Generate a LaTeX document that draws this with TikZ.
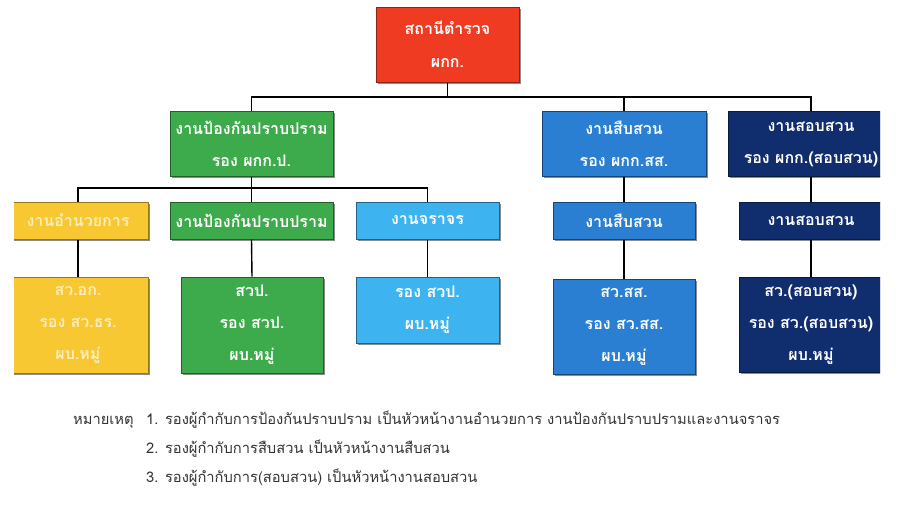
\documentclass[tikz,border=0pt]{standalone}
\usepackage{fontspec}
\newfontfamily\thai[Script=Thai]{Loma}
\usetikzlibrary{shadows}
\definecolor{cred}{HTML}{EE3B22}
\definecolor{cgreen}{HTML}{3DAA4B}
\definecolor{cyellow}{HTML}{F7C832}
\definecolor{cltblue}{HTML}{3DB3F0}
\definecolor{cblue}{HTML}{2A7FD3}
\definecolor{cnavy}{HTML}{102D6D}
\definecolor{cytext}{HTML}{FAEDB8}
\definecolor{cnote}{HTML}{333333}
\tikzset{
  box/.style={rectangle, line width=1pt, align=center, text=white, inner sep=0pt,
    font=\thai\bfseries\fontsize{16}{32}\selectfont,
    drop shadow={shadow xshift=1.5pt, shadow yshift=-1.5pt, opacity=0.45, fill=black}},
  redb/.style={box, fill=cred, draw=cred!60!black},
  greenb/.style={box, fill=cgreen, draw=cgreen!55!black},
  yellowb/.style={box, fill=cyellow, draw=cyellow!60!black, text=cytext},
  ltblueb/.style={box, fill=cltblue, draw=cltblue!55!black},
  blueb/.style={box, fill=cblue, draw=cblue!55!black},
  navyb/.style={box, fill=cnavy, draw=cnavy!60!black},
  conn/.style={draw=black, line width=1.4pt},
  note/.style={font=\thai\fontsize{14.7}{15}\selectfont, text=cnote, inner sep=0pt, anchor=base west}
}
\begin{document}
\begin{tikzpicture}[x=1pt,y=-1pt]
\useasboundingbox (0,0) rectangle (923,523);
\begin{scope}
\clip (14,0) rectangle (880,523);
% level 0
\node[redb, minimum width=143pt, minimum height=75pt] (red) at (447.5,44.5) {สถานีตำรวจ\\[1pt]ผกก.};
% level 1
\node[greenb, minimum width=163pt, minimum height=65pt] (g1) at (251.5,143.5) {งานป้องกันปราบปราม\\รอง ผกก.ป.};
\node[blueb, minimum width=164pt, minimum height=65pt] (b1) at (624,144) {งานสืบสวน\\รอง ผกก.สส.};
\node[navyb, minimum width=166pt, minimum height=65pt] (n1) at (811,144) {งานสอบสวน\\รอง ผกก.(สอบสวน)};
% level 2
\node[yellowb, minimum width=140pt, minimum height=37pt] (y2) at (78,220.5) {งานอำนวยการ};
\node[greenb, minimum width=163pt, minimum height=37pt] (g2) at (251.5,220.5) {งานป้องกันปราบปราม};
\node[ltblueb, minimum width=143pt, minimum height=37pt] (l2) at (427.5,220.5) {งานจราจร};
\node[blueb, minimum width=142pt, minimum height=37pt] (b2) at (624,220.5) {งานสืบสวน};
\node[navyb, minimum width=144pt, minimum height=37pt] (n2) at (811,220.5) {งานสอบสวน};
% level 3
\node[yellowb, minimum width=140pt, minimum height=96pt] (y3) at (78,325) {สว.อก.\\รอง สว.ธร.\\ผบ.หมู่};
\node[greenb, minimum width=142pt, minimum height=96pt] (g3) at (252,325) {สวป.\\รอง สวป.\\ผบ.หมู่};
\node[ltblueb, minimum width=143pt, minimum height=66pt] (l3) at (427.5,310) {รอง สวป.\\ผบ.หมู่};
\node[blueb, minimum width=142pt, minimum height=95pt] (b3) at (624,326.5) {สว.สส.\\รอง สว.สส.\\ผบ.หมู่};
\node[navyb, minimum width=144pt, minimum height=95pt] (n3) at (811,324.5) {สว.(สอบสวน)\\รอง สว.(สอบสวน)\\ผบ.หมู่};
% connectors
\coordinate (bus1) at (0,97);
\coordinate (bus2) at (0,188);
\draw[conn] (red.south) -- (red.south |- bus1) -| (g1.north);
\draw[conn] (red.south |- bus1) -| (b1.north);
\draw[conn] (red.south |- bus1) -| (n1.north);
\draw[conn] (g1.south) -- (g1.south |- bus2) -| (y2.north);
\draw[conn] (g1.south |- bus2) -- (g2.north);
\draw[conn] (g1.south |- bus2) -| (l2.north);
\draw[conn] (b1.south) -- (b2.north);
\draw[conn] (n1.south) -- (n2.north);
\draw[conn] (y2.south) -- (y3.north);
\draw[conn] (g2.south) -- (g3.north);
\draw[conn] (l2.south) -- (l3.north);
\draw[conn] (b2.south) -- (b3.north);
\draw[conn] (n2.south) -- (n3.north);
\end{scope}
% notes
\node[note] (nh) at (73,424) {หมายเหตุ};
\node[note] (n1t) at (146,424) {1. รองผู้กำกับการป้องกันปราบปราม เป็นหัวหน้างานอำนวยการ งานป้องกันปราบปรามและงานจราจร};
\node[note] (n2t) at (146,453) {2. รองผู้กำกับการสืบสวน เป็นหัวหน้างานสืบสวน};
\node[note] (n3t) at (146,482) {3. รองผู้กำกับการ(สอบสวน) เป็นหัวหน้างานสอบสวน};
\end{tikzpicture}
\end{document}
